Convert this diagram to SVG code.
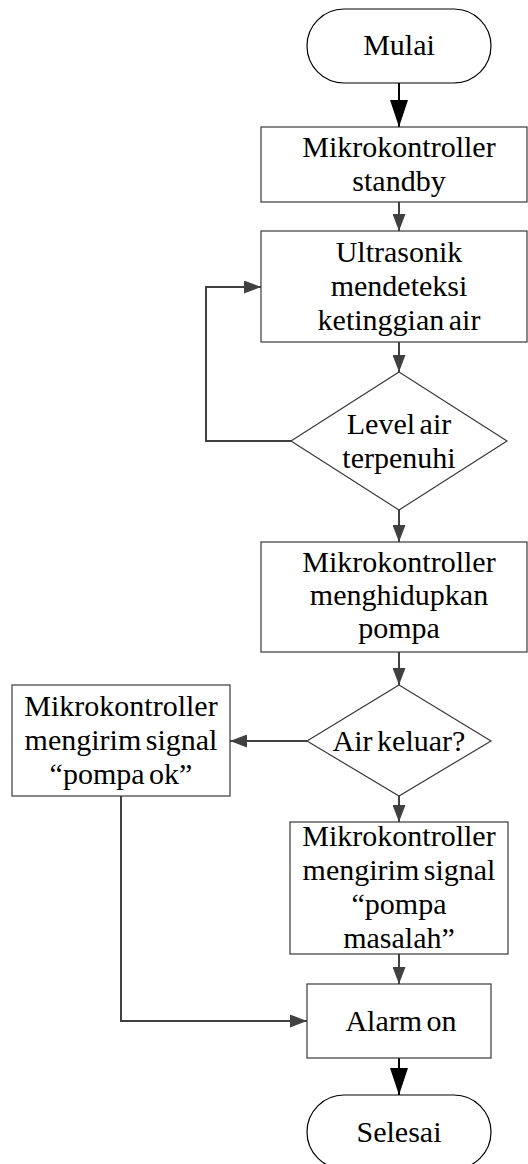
<svg xmlns="http://www.w3.org/2000/svg" width="528" height="1164" viewBox="0 0 528 1164">
<style>
.n{fill:#fff;stroke:#3a3a3a;stroke-width:1.2}
.t{font-family:"Liberation Serif","Times New Roman",serif;font-size:30px;fill:#000;text-anchor:middle;word-spacing:-3px}
.c{fill:none;stroke:#404040;stroke-width:2}
.k{fill:none;stroke:#000;stroke-width:2}
</style>
<defs>
<marker id="ag" viewBox="0 0 17 13" refX="17" refY="6.5" markerWidth="17" markerHeight="13" markerUnits="userSpaceOnUse" orient="auto"><path d="M0,0L17,6.5L0,13z" fill="#404040"/></marker>
<marker id="ab" viewBox="0 0 27 18" refX="27" refY="9" markerWidth="27" markerHeight="18" markerUnits="userSpaceOnUse" orient="auto"><path d="M0,0L27,9L0,18z" fill="#000"/></marker>
</defs>
<rect width="528" height="1164" fill="#fff"/>
<g id="connectors">
<line class="k" x1="399" y1="83" x2="399" y2="127" marker-end="url(#ab)"/>
<line class="c" x1="399" y1="202" x2="399" y2="231" marker-end="url(#ag)"/>
<line class="c" x1="399" y1="342" x2="399" y2="372" marker-end="url(#ag)"/>
<polyline class="c" points="291,441 206,441 206,287 261,287" marker-end="url(#ag)"/>
<line class="c" x1="399" y1="510" x2="399" y2="542" marker-end="url(#ag)"/>
<line class="c" x1="399" y1="652" x2="399" y2="685" marker-end="url(#ag)"/>
<line class="c" x1="307" y1="741" x2="230" y2="741" marker-end="url(#ag)"/>
<line class="c" x1="399" y1="796" x2="399" y2="822" marker-end="url(#ag)"/>
<polyline class="c" points="121,796 121,1021 307,1021" marker-end="url(#ag)"/>
<line class="c" x1="399" y1="954" x2="399" y2="984" marker-end="url(#ag)"/>
<line class="k" x1="399" y1="1058" x2="399" y2="1095" marker-end="url(#ab)"/>
</g>
<g id="mulai">
<rect class="n" x="307" y="9" width="184" height="74" rx="37" ry="37" style="stroke:#000"/>
<text class="t" x="399" y="55">Mulai</text>
</g>
<g id="standby">
<rect class="n" x="261" y="127" width="266" height="75"/>
<text class="t" x="399" y="157">Mikrokontroller</text>
<text class="t" x="399" y="191">standby</text>
</g>
<g id="ultrasonik">
<rect class="n" x="261" y="231" width="266" height="111"/>
<text class="t" x="399" y="262">Ultrasonik</text>
<text class="t" x="399" y="296">mendeteksi</text>
<text class="t" x="399" y="330">ketinggian air</text>
</g>
<g id="level">
<polygon class="n" points="399,372 507,441 399,510 291,441"/>
<text class="t" x="399" y="434">Level air</text>
<text class="t" x="399" y="468">terpenuhi</text>
</g>
<g id="pompa">
<rect class="n" x="261" y="542" width="266" height="110"/>
<text class="t" x="399" y="572">Mikrokontroller</text>
<text class="t" x="399" y="605">menghidupkan</text>
<text class="t" x="399" y="638">pompa</text>
</g>
<g id="airkeluar">
<polygon class="n" points="399,685 491,741 399,796 307,741"/>
<text class="t" x="399" y="751">Air keluar?</text>
</g>
<g id="pompaok">
<rect class="n" x="12" y="685" width="218" height="111"/>
<text class="t" x="121" y="716">Mikrokontroller</text>
<text class="t" x="121" y="750">mengirim signal</text>
<text class="t" x="121" y="784">“pompa ok”</text>
</g>
<g id="masalah">
<rect class="n" x="290" y="822" width="218" height="132"/>
<text class="t" x="399" y="846">Mikrokontroller</text>
<text class="t" x="399" y="880">mengirim signal</text>
<text class="t" x="399" y="914">“pompa</text>
<text class="t" x="399" y="948">masalah”</text>
</g>
<g id="alarm">
<rect class="n" x="307" y="984" width="184" height="74"/>
<text class="t" x="401" y="1031">Alarm on</text>
</g>
<g id="selesai">
<rect class="n" x="307" y="1095" width="184" height="74" rx="37" ry="37" style="stroke:#000"/>
<text class="t" x="399" y="1142">Selesai</text>
</g>
</svg>
